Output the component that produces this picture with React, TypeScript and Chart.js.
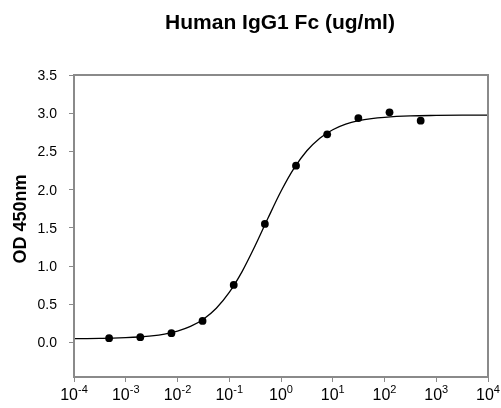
import React, { useEffect, useRef } from "react";
import { Chart, registerables } from "chart.js";

Chart.register(...registerables);

const TITLE = "Human IgG1 Fc (ug/ml)";
const Y_TITLE = "OD 450nm";

// measured points (ug/ml, OD450)
const concentrations = [0.000477, 0.00191, 0.00763, 0.0305, 0.122, 0.488, 1.95, 7.81, 31.25, 125, 500];
const odValues = [0.058, 0.071, 0.123, 0.284, 0.754, 1.552, 2.314, 2.724, 2.937, 3.012, 2.902];

// fitted curve
const curveX = [
  0.0001, 0.000178, 0.000316, 0.000562, 0.001, 0.00178, 0.00316, 0.00562, 0.01, 0.0178, 0.0316, 0.0562,
  0.1, 0.178, 0.316, 0.562, 1, 1.78, 3.16, 5.62, 10, 17.8, 31.6, 56.2, 100, 316, 1000, 3162, 10000,
];
const curveY = [
  0.052, 0.053, 0.055, 0.058, 0.064, 0.073, 0.087, 0.111, 0.15, 0.211, 0.306, 0.45,
  0.656, 0.932, 1.266, 1.629, 1.979, 2.278, 2.509, 2.674, 2.784, 2.857, 2.902, 2.93, 2.947, 2.965, 2.971, 2.974, 2.975,
];

const yTicks = [0, 0.5, 1, 1.5, 2, 2.5, 3, 3.5];
const xExponents = [-4, -3, -2, -1, 0, 1, 2, 3, 4];
const Y_MIN = -0.45;
const Y_MAX = 3.5;
const X_MIN = 1e-4;
const X_MAX = 1e4;

const FONT = '"Liberation Sans", Arial, Helvetica, sans-serif';
const AXIS_GRAY = "#8a8a8a";

const textPlugin = {
  id: "textPlugin",
  afterDraw(chart: any) {
    const ctx = chart.ctx as CanvasRenderingContext2D;
    const area = chart.chartArea;
    const xs = chart.scales.x;
    const ys = chart.scales.y;
    ctx.save();
    // frame
    ctx.strokeStyle = AXIS_GRAY;
    ctx.lineWidth = 2;
    ctx.strokeRect(area.left, area.top, area.right - area.left, area.bottom - area.top);

    ctx.fillStyle = "#000";
    // title
    ctx.font = `bold 21px ${FONT}`;
    ctx.textAlign = "center";
    ctx.textBaseline = "alphabetic";
    ctx.fillText(TITLE, 280, 29);

    // y title
    ctx.save();
    ctx.translate(26, 219);
    ctx.rotate(-Math.PI / 2);
    ctx.font = `bold 18px ${FONT}`;
    ctx.textAlign = "center";
    ctx.fillText(Y_TITLE, 0, 0);
    ctx.restore();

    // y tick labels
    ctx.font = `14px ${FONT}`;
    ctx.textAlign = "right";
    ctx.textBaseline = "middle";
    yTicks.forEach((v) => {
      const py = ys.getPixelForValue(v);
      ctx.fillText(v.toFixed(1), 57, py + 1);
    });

    // x tick labels with superscripts
    ctx.textAlign = "left";
    ctx.textBaseline = "alphabetic";
    xExponents.forEach((e) => {
      const px = xs.getPixelForValue(Math.pow(10, e));
      ctx.font = `16px ${FONT}`;
      const wBase = ctx.measureText("10").width;
      ctx.font = `11px ${FONT}`;
      const expStr = e < 0 ? "-" + Math.abs(e) : String(e);
      const wExp = ctx.measureText(expStr).width;
      const start = px - (wBase + wExp) / 2;
      ctx.font = `16px ${FONT}`;
      ctx.fillText("10", start, 400);
      ctx.font = `11px ${FONT}`;
      ctx.fillText(expStr, start + wBase, 393);
    });
    ctx.restore();
  },
};

export default function App() {
  const canvasRef = useRef<HTMLCanvasElement | null>(null);

  useEffect(() => {
    if (!canvasRef.current) return;
    const chart = new Chart(canvasRef.current, {
      type: "scatter",
      data: {
        datasets: [
          {
            type: "line",
            label: "fit",
            data: curveX.map((x, i) => ({ x, y: curveY[i] })),
            borderColor: "#000",
            borderWidth: 1.3,
            pointRadius: 0,
            fill: false,
            cubicInterpolationMode: "monotone",
          } as any,
          {
            type: "scatter",
            label: "data",
            data: concentrations.map((x, i) => ({ x, y: odValues[i] })),
            backgroundColor: "#000",
            borderColor: "#000",
            pointRadius: 3.9,
            borderWidth: 0,
          },
        ],
      },
      options: {
        responsive: false,
        animation: false,
        devicePixelRatio: 1,
        layout: { padding: { left: 69, right: 13, top: 75, bottom: 26 } },
        plugins: { legend: { display: false }, tooltip: { enabled: false }, title: { display: false } },
        scales: {
          x: {
            type: "logarithmic",
            min: X_MIN,
            max: X_MAX,
            afterBuildTicks: (s: any) => {
              s.ticks = xExponents.map((e) => ({ value: Math.pow(10, e), major: true }));
            },
            afterFit: (s: any) => {
              s.height = 5;
            },
            ticks: { display: false },
            border: { display: false },
            grid: { drawOnChartArea: false, drawTicks: true, tickLength: 5, color: AXIS_GRAY, lineWidth: 1 },
          },
          y: {
            type: "linear",
            min: Y_MIN,
            max: Y_MAX,
            afterBuildTicks: (s: any) => {
              s.ticks = yTicks.map((v) => ({ value: v }));
            },
            afterFit: (s: any) => {
              s.width = 5;
            },
            ticks: { display: false },
            border: { display: false },
            grid: { drawOnChartArea: false, drawTicks: true, tickLength: 5, color: AXIS_GRAY, lineWidth: 1 },
          },
        },
      } as any,
      plugins: [textPlugin],
    });
    return () => chart.destroy();
  }, []);

  return (
    <div style={{ position: "fixed", left: 0, top: 0, width: 501, height: 408, background: "#fff" }}>
      <canvas ref={canvasRef} width={501} height={408} style={{ width: 501, height: 408, display: "block" }} />
    </div>
  );
}
